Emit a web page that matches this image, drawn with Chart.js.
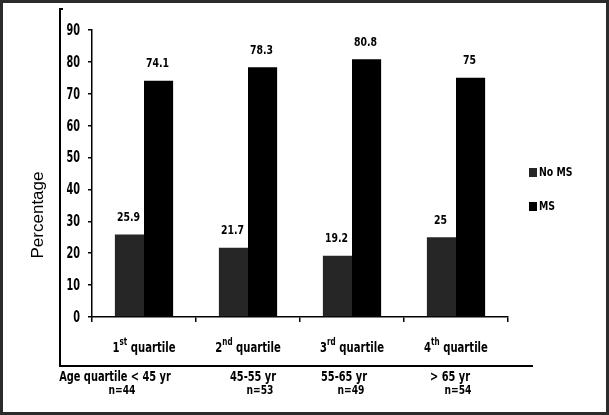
<!DOCTYPE html>
<html>
<head>
<meta charset="utf-8">
<script src="https://cdn.jsdelivr.net/npm/chart.js@4"></script>
<style>
  html, body { margin: 0; padding: 0; background: #fff; }
  #wrap { width: 609px; height: 415px; position: relative; }
</style>
</head>
<body>
<div id="wrap"><canvas id="ageChart"></canvas></div>
<script>
// Data
const quartiles = ['1st quartile', '2nd quartile', '3rd quartile', '4th quartile'];
const quartileNum = ['1', '2', '3', '4'];
const quartileSup = ['st', 'nd', 'rd', 'th'];
const ageRanges = ['Age quartile < 45 yr', '45-55 yr', '55-65 yr', '> 65 yr'];
const groupSizes = ['n=44', 'n=53', 'n=49', 'n=54'];
const noMS = [25.9, 21.7, 19.2, 25];
const withMS = [74.1, 78.3, 80.8, 75];
const seriesNames = ['No MS', 'MS'];
const seriesColors = ['#262626', '#000000'];

const FONT = '"DejaVu Sans Condensed", "Liberation Sans Narrow", "Liberation Sans", Arial, sans-serif';
const SQUEEZE = 0.8; // the source uses a narrow font

// text squeezed horizontally
function narrowText(ctx, text, x, y, font, align, sx) {
    ctx.save();
    ctx.font = font;
    ctx.textBaseline = 'middle';
    ctx.textAlign = align;
    ctx.translate(x, y);
    ctx.scale(sx, 1);
    ctx.fillText(text, 0, 0);
    ctx.restore();
}

// draws the frame, value labels, category labels, the notes under the axis and the legend
const extrasPlugin = {
    id: 'extras',
    afterDraw(chart) {
        const ctx = chart.ctx;
        const xs = chart.scales.x;
        const ys = chart.scales.y;
        ctx.save();
        ctx.fillStyle = '#000';

        // outer image border
        ctx.strokeStyle = '#2b2b2b';
        ctx.lineWidth = 3;
        ctx.strokeRect(1.5, 1.5, 606, 412);

        // inner frame with a small hook at the top
        ctx.strokeStyle = '#000';
        ctx.lineWidth = 2;
        ctx.beginPath();
        ctx.moveTo(63, 9);
        ctx.lineTo(60, 9);
        ctx.lineTo(60, 366);
        ctx.lineTo(533, 366);
        ctx.stroke();

        // y tick labels
        ys.ticks.forEach(t => {
            narrowText(ctx, String(t.value), ys.left + 28, ys.getPixelForValue(t.value) + 1,
                'bold 15px ' + FONT, 'right', 0.72);
        });

        // value labels over bars
        chart.data.datasets.forEach((ds, di) => {
            const meta = chart.getDatasetMeta(di);
            meta.data.forEach((bar, i) => {
                narrowText(ctx, String(ds.data[i]), bar.x - 1, bar.y - 17,
                    'bold 13px ' + FONT, 'center', SQUEEZE);
            });
        });

        // category labels with superscripts
        quartiles.forEach((q, i) => {
            const cx = xs.getPixelForValue(i);
            ctx.font = 'bold 14px ' + FONT;
            const wNum = ctx.measureText(quartileNum[i]).width * SQUEEZE;
            const wRest = ctx.measureText(' quartile').width * SQUEEZE;
            ctx.font = 'bold 10px ' + FONT;
            const wSup = ctx.measureText(quartileSup[i]).width * SQUEEZE;
            let x = cx - (wNum + wSup + wRest) / 2;
            const y = 348;
            narrowText(ctx, quartileNum[i], x, y, 'bold 14px ' + FONT, 'left', SQUEEZE);
            x += wNum;
            narrowText(ctx, quartileSup[i], x, y - 6, 'bold 10px ' + FONT, 'left', SQUEEZE);
            x += wSup;
            narrowText(ctx, ' quartile', x, y, 'bold 14px ' + FONT, 'left', SQUEEZE);
        });

        // age ranges and group sizes under the frame
        const ageX = [115, 253, 344, 450];
        const nX = [122, 260, 351, 458];
        ageRanges.forEach((t, i) => narrowText(ctx, t, ageX[i], 377, 'bold 14px ' + FONT, 'center', 0.78));
        groupSizes.forEach((t, i) => narrowText(ctx, t, nX[i], 391, 'bold 12px ' + FONT, 'center', 0.85));

        // legend
        const legY = [173, 207];
        seriesNames.forEach((name, i) => {
            ctx.fillStyle = seriesColors[i];
            ctx.fillRect(529, legY[i] - 5, 8, 9);
            ctx.fillStyle = '#000';
            narrowText(ctx, name, 539, legY[i], 'bold 13px ' + FONT, 'left', SQUEEZE);
        });

        // y axis title
        ctx.save();
        ctx.translate(38, 215);
        ctx.rotate(-Math.PI / 2);
        ctx.font = '17px "Liberation Sans", Arial, sans-serif';
        ctx.textAlign = 'center';
        ctx.textBaseline = 'middle';
        ctx.fillText('Percentage', 0, 0);
        ctx.restore();

        ctx.restore();
    }
};

const ctx = document.getElementById('ageChart').getContext('2d');
const ageChart = new Chart(ctx, {
    type: 'bar',
    data: {
        labels: quartiles,
        datasets: [
            { label: seriesNames[0], data: noMS, backgroundColor: seriesColors[0], borderWidth: 0 },
            { label: seriesNames[1], data: withMS, backgroundColor: seriesColors[1], borderWidth: 0 },
        ],
    },
    options: {
        responsive: true,
        maintainAspectRatio: false,
        animation: false,
        layout: { padding: { left: 52, right: 101, top: 30, bottom: 0 } },
        plugins: {
            legend: { display: false },
            tooltip: { enabled: false },
        },
        datasets: {
            bar: { categoryPercentage: 0.56, barPercentage: 1.0 },
        },
        scales: {
            x: {
                grid: {
                    offset: true,
                    drawOnChartArea: false,
                    drawTicks: true,
                    tickLength: 5,
                    color: '#000',
                    lineWidth: 1.5,
                },
                border: { display: true, color: '#000', width: 1.5 },
                ticks: { display: false },
                afterFit(scale) { scale.height = 98; },
            },
            y: {
                min: 0,
                max: 90,
                ticks: { stepSize: 10, display: false },
                grid: {
                    drawOnChartArea: false,
                    drawTicks: true,
                    tickLength: 4,
                    color: '#000',
                    lineWidth: 1.5,
                },
                border: { display: true, color: '#000', width: 1.5 },
                afterFit(scale) { scale.width = 40; },
            },
        },
    },
    plugins: [extrasPlugin],
});
</script>
</body>
</html>
